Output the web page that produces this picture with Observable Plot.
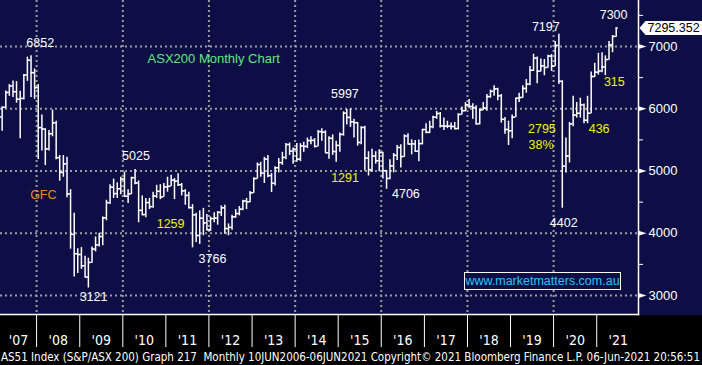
<!DOCTYPE html>
<html>
<head>
<meta charset="utf-8">
<script src="https://cdn.jsdelivr.net/npm/d3@7"></script>
<script src="https://cdn.jsdelivr.net/npm/@observablehq/plot@0.6"></script>
<style>
  html, body { margin: 0; padding: 0; background: #000; }
  #wrap { position: relative; width: 702px; height: 365px; overflow: hidden; background: #000; }
  #bg { position: absolute; left: 0; top: 0; width: 702px; height: 315px; background: #0e0e46; }
  #chart { position: absolute; left: 0; top: 0; }
  #site { position: absolute; left: 464px; top: 272px; width: 155px; height: 16px; border: 1.5px solid #fff;
          background: #0e0e46; color: #22c8f8; font: 12.5px "Liberation Sans", Arial, sans-serif;
          line-height: 16px; text-align: center; white-space: nowrap; }
  #footer { position: absolute; left: 0; top: 345px; }
</style>
</head>
<body>
<div id="wrap">
  <div id="bg"></div>
  <div id="chart"></div>
  <div id="site">www.marketmatters.com.au</div>
  <svg id="footer" width="702" height="20">
    <text transform="scale(1,1.2)" x="1" y="13.3" textLength="699" lengthAdjust="spacingAndGlyphs" fill="#fff" font-size="10.2"
      font-family="'DejaVu Sans Condensed', 'Liberation Sans Narrow', sans-serif" style="white-space:pre">AS51 Index (S&amp;P/ASX 200) Graph 217  Monthly 10JUN2006-06JUN2021 Copyright© 2021 Bloomberg Finance L.P. 06-Jun-2021 20:56:51</text>
  </svg>
</div>
<script>
// ---- Data: ASX200 monthly OHLC, Mar 2007 .. Jun 2021 ----
const firstYear = 2007, firstMonth = 2; // March 2007 (0-based month)
const opens = [
  5869,6024,6262,6366,6274,6154,6166,6543,6779,6580,
  6339,5697,5674,5355,5599,5774,5215,4978,5115,4632,3983,3672,
  3659,3478,3296,3532,3745,3813,3947,4249,4492,4739,4637,4715,
  4871,4596,4632,4893,4807,4367,4301,4493,4428,4599,4675,4584,
  4745,4754,4852,4838,4780,4681,4608,4412,4296,3964,4242,4167,
  4057,4236,4244,4335,4409,4076,4095,4264,4317,4387,4517,4506,
  4649,4879,5104,4966,5191,4926,4803,5052,5135,5218,5425,5320,
  5352,5190,5404,5395,5489,5492,5396,5633,5625,5293,5526,5313,
  5411,5588,5929,5861,5790,5777,5459,5699,5207,5022,5239,5166,
  5296,5005,4881,5083,5252,5378,5233,5562,5433,5436,5318,5440,
  5666,5621,5712,5865,5924,5724,5721,5720,5715,5682,5909,5969,
  6065,6037,6016,5759,5982,6012,6195,6280,6319,6208,5830,5667,
  5646,5865,6169,6181,6326,6397,6618,6813,6604,6688,6663,6846,
  6684,7017,6441,5077,5242,5756,5898,5928,6061,5816,5928,6518,
  6588,6607,6673,6791,7025,7162
];
const highs = [
  6030,6285,6390,6445,6437,6280,6550,6829,6852,6640,
  6390,5900,5680,5650,5977,5800,5250,5250,5220,4700,4320,3750,
  3770,3630,3600,3780,3940,4000,4260,4530,4780,4870,4810,4900,
  4980,4700,4900,5025,4840,4600,4560,4560,4660,4770,4780,4800,
  4900,4930,4880,4957,4800,4700,4660,4460,4320,4360,4400,4300,
  4260,4330,4350,4440,4450,4150,4290,4380,4430,4530,4560,4670,
  4890,5130,5140,5220,5250,4960,5070,5200,5300,5440,5450,5370,
  5440,5440,5460,5530,5550,5520,5650,5680,5645,5550,5580,5480,
  5610,5950,5990,5997,5830,5780,5710,5720,5310,5350,5310,5340,
  5300,5010,5180,5280,5410,5420,5580,5600,5500,5490,5500,5670,
  5760,5800,5880,5957,5940,5850,5800,5770,5780,5920,6030,6100,
  6150,6080,6050,6000,6100,6230,6300,6370,6330,6230,5860,5800,
  5900,6170,6250,6370,6470,6680,6875,6830,6800,6790,6860,6870,
  7080,7197,6450,5530,5780,6200,6100,6170,6075,6200,6590,6730,
  6890,6900,6850,7080,7175,7300
];
const lows = [
  5640,6000,6200,6180,6090,5520,6140,6440,6180,6150,
  5186,5320,5089,5320,5550,5180,4836,4900,4570,3744,3297,3352,
  3420,3290,3121,3520,3700,3780,3800,4200,4460,4560,4560,4620,
  4580,4480,4620,4780,4170,4280,4250,4380,4400,4560,4540,4580,
  4660,4750,4540,4750,4600,4450,4390,3766,3850,3820,3960,4040,
  4030,4170,4130,4270,3985,3960,4050,4240,4280,4360,4380,4490,
  4640,4870,4900,4800,4890,4656,4760,4970,5090,5180,5250,5110,
  5140,5150,5300,5360,5420,5370,5390,5480,5290,5190,5250,5140,
  5300,5560,5740,5700,5530,5400,5420,5000,4920,4980,5110,4990,
  4870,4706,4860,4970,5170,5050,5220,5420,5260,5300,5150,5420,
  5600,5600,5680,5830,5690,5650,5680,5660,5660,5660,5900,5950,
  6000,5830,5740,5740,5970,5960,6170,6200,6130,5770,5590,5410,
  5520,5860,6100,6170,6250,6370,6600,6400,6590,6530,6650,6600,
  6680,6390,4402,4970,5130,5710,5850,5850,5760,5760,5920,6500,
  6540,6580,6530,6780,6900,7150
];
const closes = [
  6024,6262,6366,6274,6154,6166,6543,6779,6580,6339,
  5697,5674,5355,5599,5774,5215,4978,5115,4632,3983,3672,3659,
  3478,3296,3532,3745,3813,3947,4249,4492,4739,4637,4715,4871,
  4596,4632,4893,4807,4367,4301,4493,4428,4599,4675,4584,4745,
  4754,4852,4838,4780,4681,4608,4412,4296,3964,4242,4167,4057,
  4236,4244,4335,4409,4076,4095,4264,4317,4387,4517,4506,4649,
  4879,5104,4966,5191,4926,4803,5052,5135,5218,5425,5320,5352,
  5190,5404,5395,5489,5492,5396,5633,5625,5293,5526,5313,5411,
  5588,5929,5861,5790,5777,5459,5699,5207,5022,5239,5166,5296,
  5005,4881,5083,5252,5378,5233,5562,5433,5436,5318,5440,5666,
  5621,5712,5865,5924,5724,5721,5720,5715,5682,5909,5969,6065,
  6037,6016,5759,5982,6012,6195,6280,6319,6208,5830,5667,5646,
  5865,6169,6181,6326,6397,6618,6813,6604,6688,6663,6846,6684,
  7017,6441,5077,5242,5756,5898,5928,6061,5816,5928,6518,6588,
  6607,6673,6791,7025,7162,7295.352
];

// Axis ticks and labels
const yMajor = [3000, 4000, 5000, 6000, 7000];
const yMinor = [3500, 4500, 5500, 6500, 7500];
const yearLabels = ["'07","'08","'09","'10","'11","'12","'13","'14","'15","'16","'17","'18","'19","'20","'21"];
const gridYears = [2008, 2010, 2012, 2014, 2016, 2018, 2020];

// Annotations (data-space anchors)
const annLabels = ["6852","GFC","5025","1259","3766","3121","5997","1291","4706","7197","7300","315","2795","38%","436","4402"];
const annDates  = ["2008-02-01","2008-02-27","2010-04-23","2011-02-10","2012-01-31","2009-04-28","2015-02-27","2015-02-28","2016-07-28","2019-10-27","2021-05-24","2021-05-30","2019-09-24","2019-09-17","2021-01-21","2020-03-27"];
const annValues = [7064, 4622, 5249, 4141, 3594, 2984, 6245, 4880, 4631, 7321, 7514, 6422, 5667, 5410, 5667, 4157];
const annColors = ["#ffffff","#f5871f","#ffffff","#f2f20a","#ffffff","#ffffff","#ffffff","#f2f20a","#ffffff","#ffffff","#ffffff","#f2f20a","#f2f20a","#f2f20a","#f2f20a","#ffffff"];
const titleText = "ASX200 Monthly Chart";
const titleDate = "2010-07-30", titleValue = 6807;

// ---- Build tables ----
const bars = opens.map((o, i) => ({
  date: new Date(Date.UTC(firstYear, firstMonth + i, 15)),
  open: o, high: highs[i], low: lows[i], close: closes[i]
}));
const last = bars[bars.length - 1];
const annotations = annLabels.map((label, i) => ({
  label, date: new Date(annDates[i] + "T00:00Z"), value: annValues[i], color: annColors[i]
}));

const xDomain = [new Date(Date.UTC(2007, 2, 1)), new Date(Date.UTC(2021, 11, 21))];
const yDomain = [2695, 7739];

const yearStarts = d3.range(2008, 2022).map(y => new Date(Date.UTC(y, 0, 1)));
const labelMap = new Map();
const labelDates = yearLabels.map((lab, i) => {
  const y = 2007 + i;
  const a = Math.max(+new Date(Date.UTC(y, 0, 1)), +xDomain[0]);
  const b = +new Date(Date.UTC(y + 1, 0, 1));
  const d = new Date((a + b) / 2);
  labelMap.set(+d, lab);
  return d;
});
const gridDates = gridYears.map(y => new Date(Date.UTC(y, 0, 1)));

const arrowSymbol = { draw(ctx, size) { const r = Math.sqrt(size / Math.PI);
  ctx.moveTo(0, -0.6 * r); ctx.lineTo(2 * r, 0); ctx.lineTo(0, 0.6 * r); ctx.closePath(); } };
const tagSymbol = { draw(ctx) {
  ctx.moveTo(1, 0); ctx.lineTo(7, -7); ctx.lineTo(64, -7); ctx.lineTo(64, 7); ctx.lineTo(7, 7); ctx.closePath(); } };

const dotted = { stroke: "#9c9c9c", strokeOpacity: 1, strokeWidth: 2, strokeDasharray: "2,3" };
const numFont = "'Liberation Sans', Arial, sans-serif";
const narrowFont = "'Liberation Sans Narrow', 'DejaVu Sans Condensed', 'Roboto Condensed', sans-serif";

const chart = Plot.plot({
  width: 702, height: 347,
  marginTop: 0, marginRight: 64, marginBottom: 33, marginLeft: 0,
  style: { background: "transparent", color: "white", fontFamily: numFont, fontSize: "12.5px", overflow: "visible" },
  x: { type: "utc", domain: xDomain, axis: null },
  y: { domain: yDomain, axis: null },
  marks: [
    Plot.gridY(yMajor, dotted),
    Plot.gridX(gridDates, dotted),
    Plot.ruleX(bars, { x: "date", y1: "low", y2: "high", stroke: "white", strokeWidth: 1.5 }),
    Plot.ruleY(bars, { y: "open", x1: d => d3.utcDay.offset(d.date, -18), x2: "date", stroke: "white", strokeWidth: 1.5 }),
    Plot.ruleY(bars, { y: "close", x1: "date", x2: d => d3.utcDay.offset(d.date, 18), stroke: "white", strokeWidth: 1.5 }),
    Plot.frame({ anchor: "bottom", stroke: "white", strokeWidth: 1.5 }),
    Plot.frame({ anchor: "right", stroke: "white", strokeWidth: 1.5 }),
    Plot.axisY(yMajor, { anchor: "right", tickSize: 0, tickPadding: 10, fontSize: 13, color: "white", fontFamily: numFont, tickFormat: d => String(d) }),
    Plot.axisY(yMinor, { anchor: "right", tickSize: 4, tickFormat: () => "", color: "white" }),
    Plot.dot(yMajor, { y: d => d, frameAnchor: "right", symbol: arrowSymbol, r: 4, fill: "white", stroke: null }),
    Plot.axisX(yearStarts, { anchor: "bottom", tickSize: 33, tickFormat: () => "", color: "white", strokeWidth: 1 }),
    Plot.axisX(labelDates, { anchor: "bottom", tickSize: 0, tickPadding: 21, tickFormat: d => labelMap.get(+d), fontSize: 14, fontFamily: narrowFont, color: "white" }),
    Plot.text(annotations, { x: "date", y: "value", text: "label", fill: "color", fontSize: 12.5, fontFamily: numFont }),
    Plot.text([titleText], { x: () => new Date(titleDate + "T00:00Z"), y: () => titleValue, text: d => d, textAnchor: "start", fill: "#5ee87a", fontSize: 13, fontFamily: numFont }),
    Plot.dot([last], { y: "close", frameAnchor: "right", symbol: tagSymbol, r: 4, fill: "white", stroke: null }),
    Plot.text([last], { y: "close", frameAnchor: "right", dx: 9, textAnchor: "start", text: d => d.close.toFixed(3), fill: "black", fontSize: 12.5, fontFamily: numFont })
  ]
});
document.getElementById("chart").appendChild(chart);
</script>
</body>
</html>
